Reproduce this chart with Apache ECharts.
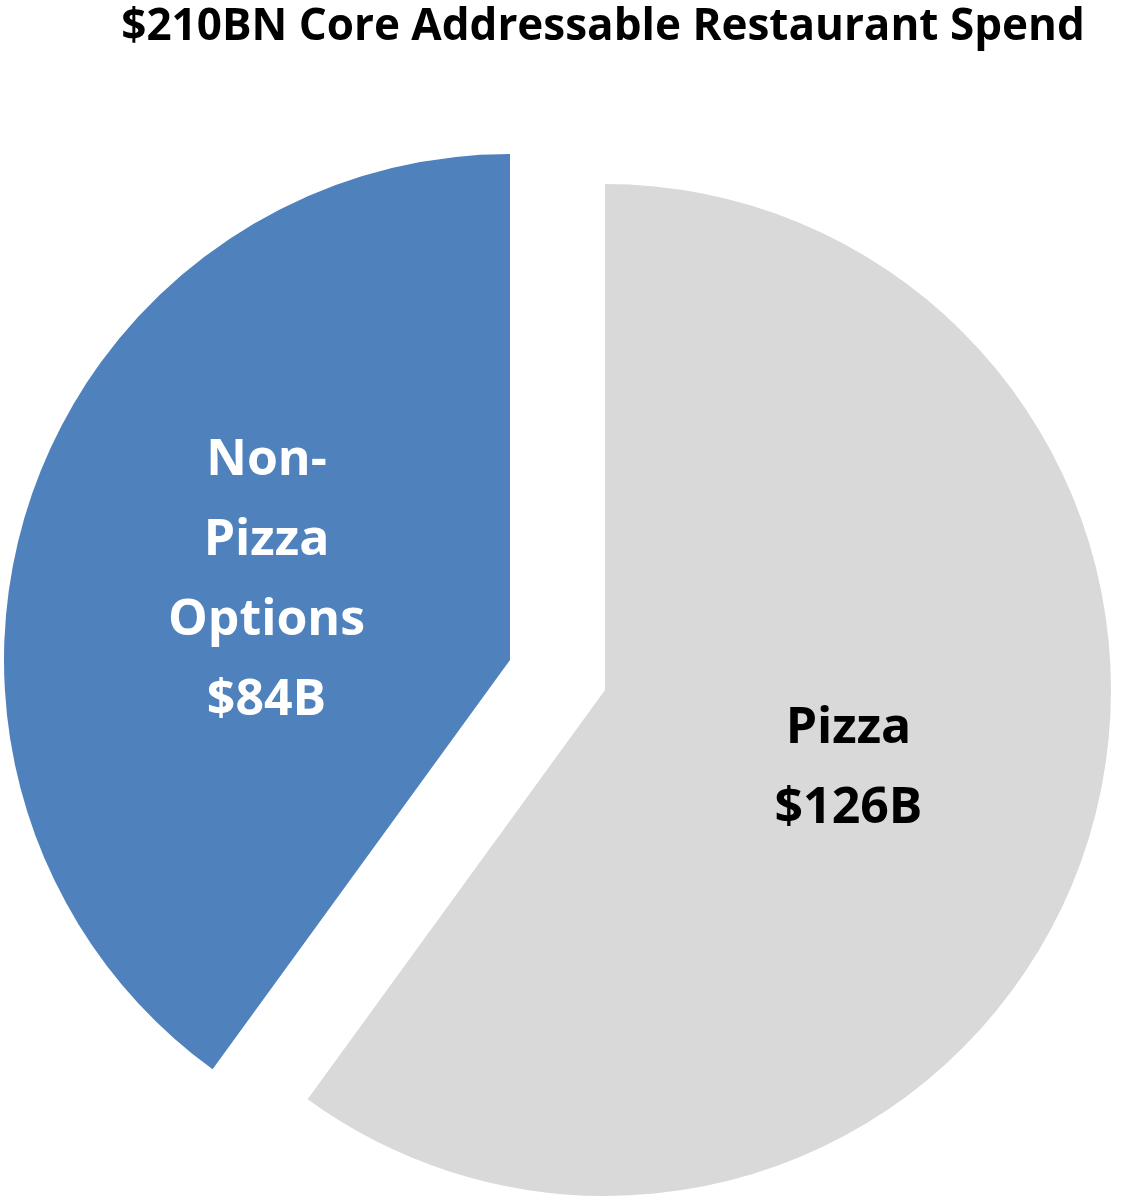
<!DOCTYPE html>
<html><head><meta charset="utf-8">
<script src="https://cdn.jsdelivr.net/npm/echarts@6/dist/echarts.min.js"></script>
<style>html,body{margin:0;background:#fff}#c{width:1147px;height:1199px}</style>
</head><body><div id="c"></div>
<script>
const categories = ['Pizza', 'Non-Pizza Options'];
const values = [126, 84];
const labels = ['Pizza\n$126B', 'Non-\nPizza\nOptions\n$84B'];
const colors = ['#d9d9d9', '#4f81bd'];
const textColors = ['#000', '#fff'];
const chart = echarts.init(document.getElementById('c'));
function series(idx, center) {
  return {
    type: 'pie', center: center, radius: 506, startAngle: 90, clockwise: true,
    silent: true, animation: false,
    data: categories.map((n, i) => ({
      name: n, value: values[i],
      itemStyle: { color: i === idx ? colors[i] : 'rgba(0,0,0,0)' },
      label: { show: i === idx, position: 'inside', formatter: labels[i], color: textColors[i],
        fontFamily: 'Open Sans', fontWeight: 'bold', fontSize: 50, lineHeight: 80 }
    })),
    labelLine: { show: false }
  };
}
chart.setOption({
  title: { text: '$210BN Core Addressable Restaurant Spend', left: 598, top: 0, textAlign: 'center',
    textStyle: { fontFamily: 'Open Sans', fontWeight: 'bold', fontSize: 44, color: '#000' } },
  series: [series(0, [605, 690]), series(1, [510, 660])]
});
</script></body></html>
